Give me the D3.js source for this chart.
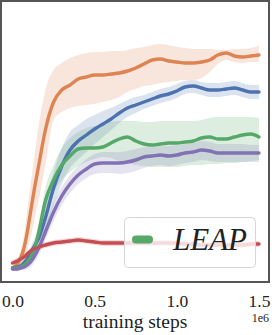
<!DOCTYPE html>
<html><head><meta charset="utf-8">
<script src="https://cdn.jsdelivr.net/npm/d3@7"></script>
<style>body{margin:0;background:#fff}svg{display:block}</style>
</head><body><svg id="c" width="272" height="335"></svg>
<script>
const steps = [0,0.03,0.05,0.07,0.09,0.11,0.13,0.16,0.2,0.25,0.3,0.35,0.4,0.45,0.5,0.55,0.6,0.65,0.7,0.75,0.8,0.85,0.9,0.95,1.0,1.05,1.1,1.15,1.2,1.25,1.3,1.35,1.4,1.45,1.5];
const xTicks = [0, 0.5, 1.0, 1.5];
const xTickLabels = ["0.0","0.5","1.0","1.5"];

const orangeMean = [15,19,25,35,51,71,91,118,153,181,193,198,204,206,208,208,209,210,212,215,219,223,224,222,221,220,220,221,223,228,230,227,226,227,228];
const orangeHi   = [17,23,33,48,73,98,123,158,193,213,220,225,228,230,231,231,232,232,233,235,236,238,239,238,236,235,234,234,234,233,233,234,234,235,237];
const orangeLo   = [13,15,18,23,33,45,61,83,118,163,171,175,177,178,179,181,183,186,191,194,197,198,200,201,202,203,203,205,211,219,223,221,220,221,221];

const blueMean = [15,16,17,20,24,30,36,45,65,95,117,133,142,148,154,159,164,170,175,178,181,184,187,189,192,196,197,195,193,193,194,195,193,191,191];
const blueHi   = [17,18,20,24,29,36,43,54,77,111,135,151,158,164,168,172,175,179,183,186,188,191,194,196,199,202,203,201,200,200,201,202,200,198,198];
const blueLo   = [13,14,15,17,20,25,30,37,53,78,99,115,124,131,139,146,153,160,166,170,174,177,180,182,185,189,190,188,186,186,187,188,186,184,184];

const greenMean = [15,15,16,18,21,26,32,51,82,103,118,127,134,135,135,136,140,144,146,142,139,138,139,140,140,141,142,145,146,144,144,146,148,149,146];
const greenHi   = [17,17,19,22,26,32,39,61,95,118,135,145,151,155,157,159,161,162,162,162,161,161,162,162,162,162,162,163,165,166,166,166,166,166,165];
const greenLo   = [13,13,14,15,17,21,26,43,71,90,103,111,117,121,124,126,125,122,120,118,117,116,116,116,116,117,118,118,119,119,120,120,121,122,123];

const purpleMean = [14,14,15,16,18,21,26,35,51,71,87,99,108,114,119,120,120,120,121,123,126,127,128,127,128,130,131,133,132,130,130,130,130,130,130];
const purpleHi   = [16,16,17,19,22,26,32,42,59,80,96,108,117,124,129,131,131,131,132,134,136,137,138,137,138,139,140,142,141,139,139,139,139,138,138];
const purpleLo   = [12,12,13,13,14,16,20,28,43,62,78,90,99,105,109,110,110,109,110,112,115,117,118,117,118,120,121,123,122,121,121,121,121,121,121];

const redMean = [20,22,24,26,29,32,34,36,38,40,41,42,43,42,41,40,40,40,40,40,40,40,40,40,40,39,39,38,38,38,38,38,38,39,39];
const redHi   = [23,25,27,29,32,35,37,39,41,43,44,45,46,45,44,43,43,43,43,43,43,43,43,43,43,42,42,41,41,41,41,41,41,42,42];
const redLo   = [17,19,21,23,26,29,31,33,35,37,38,39,40,39,38,37,37,37,37,37,37,37,37,37,37,36,36,35,35,35,35,35,35,36,36];

const legendLabel = "LEAP";

const series = [
  {mean: orangeMean, hi: orangeHi, lo: orangeLo, color: "#dd8452"},
  {mean: blueMean, hi: blueHi, lo: blueLo, color: "#4c72b0"},
  {mean: greenMean, hi: greenHi, lo: greenLo, color: "#55a868"},
  {mean: purpleMean, hi: purpleHi, lo: purpleLo, color: "#8172b3"},
  {mean: redMean, hi: redHi, lo: redLo, color: "#c44e52"}
];

const svg = d3.select("#c");
const frame = {l: 1, t: 1, r: 269, b: 282};
const x = d3.scaleLinear().domain([0, 1.5]).range([12.5, 259]);
const y = d3.scaleLinear().domain([0, 283]).range([283, 0]);

const plot = svg.append("g");
plot.append("clipPath").attr("id","clip").append("rect")
  .attr("x", frame.l).attr("y", frame.t).attr("width", frame.r-frame.l).attr("height", frame.b-frame.t);
const g = plot.append("g").attr("clip-path","url(#clip)");

series.forEach(s => {
  const area = d3.area().curve(d3.curveMonotoneX)
    .x((d,i) => x(steps[i])).y0((d,i) => y(s.lo[i])).y1((d,i) => y(s.hi[i]));
  g.append("path").attr("d", area(s.mean)).attr("fill", s.color).attr("fill-opacity", 0.2).attr("stroke","none");
});
series.forEach(s => {
  const line = d3.line().curve(d3.curveMonotoneX).x((d,i) => x(steps[i])).y(d => y(d));
  g.append("path").attr("d", line(s.mean)).attr("fill","none").attr("stroke", s.color)
    .attr("stroke-width", 3.4).attr("stroke-linejoin","round").attr("stroke-linecap","round");
});

// legend
const lg = svg.append("g");
lg.append("rect").attr("x",124.5).attr("y",217.5).attr("width",131).attr("height",50).attr("rx",4)
  .attr("fill","#fff").attr("fill-opacity",0.8).attr("stroke","#d6d6d6").attr("stroke-width",1);
lg.append("line").attr("x1",136).attr("x2",149).attr("y1",239.5).attr("y2",239.5)
  .attr("stroke","#55a868").attr("stroke-width",8).attr("stroke-linecap","round");
lg.append("text").attr("x",173).attr("y",250).attr("font-family","Liberation Serif, serif")
  .attr("font-style","italic").attr("font-size",31).attr("fill","#222").text(legendLabel);

// frame
svg.append("rect").attr("x",frame.l).attr("y",frame.t).attr("width",frame.r-frame.l).attr("height",frame.b-frame.t)
  .attr("fill","none").attr("stroke","#555").attr("stroke-width",2);

// x axis tick labels
const xAxis = d3.axisBottom(x).tickValues(xTicks).tickFormat((d,i) => xTickLabels[i]).tickSize(0).tickPadding(0);
const ax = svg.append("g").attr("transform","translate(0,294)").call(xAxis);
ax.select(".domain").remove();
ax.selectAll("text").attr("font-family","Liberation Serif, serif").attr("font-size",17.5).attr("fill","#222").attr("dy","0.73em");

svg.append("text").attr("x",135).attr("y",328).attr("text-anchor","middle")
  .attr("font-family","Liberation Serif, serif").attr("font-size",19.5).attr("fill","#222").text("training steps");
svg.append("text").attr("x",269).attr("y",322).attr("text-anchor","end")
  .attr("font-family","Liberation Serif, serif").attr("font-size",12).attr("fill","#222").text("1e6");
</script></body></html>
